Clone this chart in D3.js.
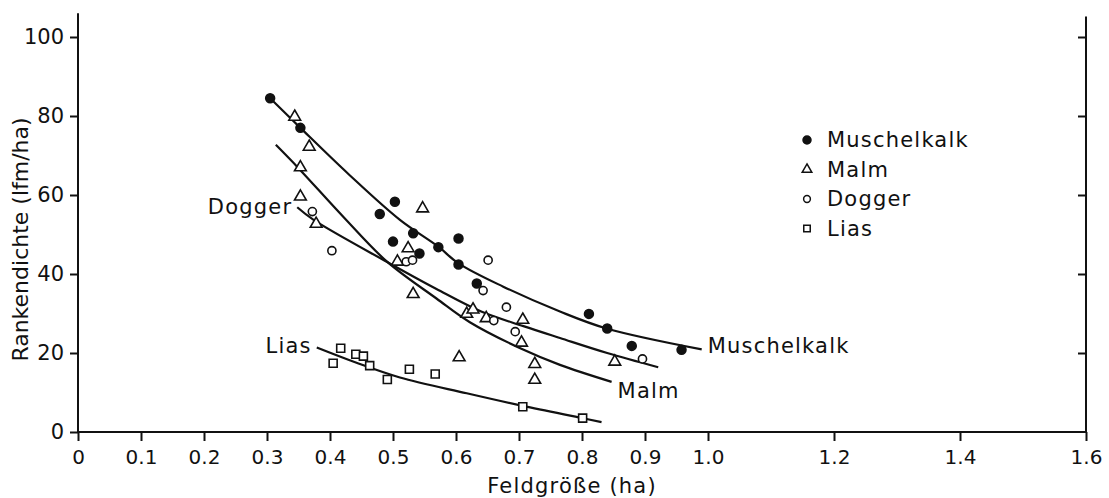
<!DOCTYPE html>
<html>
<head>
<meta charset="utf-8">
<script src="https://cdn.jsdelivr.net/npm/d3@7"></script>
<style>
  body { margin: 0; background: #fff; }
  text { font-family: "DejaVu Sans", sans-serif; fill: #111; }
</style>
</head>
<body>
<svg width="1109" height="498"></svg>
<script>
// measured points, x = field size (ha), y = Rankendichte (lfm/ha)
var muschelkalk = [[0.305,84.5],[0.353,77],[0.479,55.2],[0.503,58.3],[0.500,48.2],[0.532,50.3],[0.542,45.2],
  [0.572,46.8],[0.604,49.0],[0.604,42.4],[0.633,37.6],[0.811,29.9],[0.840,26.2],[0.879,21.8],[0.958,20.8]];
var malm = [[0.344,79.8],[0.353,67],[0.353,59.6],[0.367,72.2],[0.378,52.7],[0.507,43.1],[0.524,46.5],[0.532,34.9],
  [0.547,56.6],[0.605,18.9],[0.617,29.9],[0.627,31.0],[0.648,28.8],[0.704,22.6],[0.706,28.4],[0.725,17.2],
  [0.725,13.2],[0.852,17.8]];
var dogger = [[0.372,55.8],[0.403,45.9],[0.521,43.1],[0.531,43.5],[0.643,35.8],[0.651,43.5],[0.660,28.2],
  [0.680,31.6],[0.694,25.4],[0.896,18.5]];
var lias = [[0.405,17.4],[0.417,21.2],[0.441,19.7],[0.453,19.2],[0.463,16.8],[0.491,13.3],[0.526,15.9],
  [0.567,14.7],[0.706,6.4],[0.801,3.5]];

// fitted curves
var muschelkalkCurve = [[0.305,84.5],[0.353,77],[0.43,65.2],[0.511,53.7],[0.572,46.9],[0.604,42.7],[0.675,36.8],
  [0.765,30.5],[0.839,26.2],[0.99,20.9]];
var malmCurve = [[0.314,72.7],[0.350,66.8],[0.421,54.5],[0.490,43.2],[0.569,33.8],[0.622,27.8],[0.702,21.2],
  [0.765,17.0],[0.847,12.7]];
var doggerCurve = [[0.348,56.9],[0.374,53.7],[0.490,43.1],[0.569,36.2],[0.640,30.5],[0.707,26.8],[0.765,23.8],
  [0.840,20.0],[0.921,16.4]];
var liasCurve = [[0.379,21.4],[0.441,17.6],[0.511,13.8],[0.617,9.8],[0.706,6.6],[0.801,3.5],[0.831,2.5]];

var xTicks = [0,0.1,0.2,0.3,0.4,0.5,0.6,0.7,0.8,0.9,1.0,1.2,1.4,1.6];
var xTickLabels = ["0","0.1","0.2","0.3","0.4","0.5","0.6","0.7","0.8","0.9","1.0","1.2","1.4","1.6"];
var yTicks = [0,20,40,60,80,100];
var legendNames = ["Muschelkalk","Malm","Dogger","Lias"];

var svg = d3.select("svg"),
    width = +svg.attr("width"),
    height = +svg.attr("height");

var x = d3.scaleLinear().domain([0,1.6]).range([78,1086]);
var y = d3.scaleLinear().domain([0,100]).range([432,37]);

// axes
var gl = svg.append("g").attr("transform","translate(" + x(0) + ",0)")
  .call(d3.axisLeft(y).tickValues(yTicks).tickSize(8).tickPadding(6));
var gb = svg.append("g").attr("transform","translate(0," + y(0) + ")")
  .call(d3.axisBottom(x).tickValues(xTicks).tickFormat(function(d,i){ return xTickLabels[i]; })
    .tickSize(9).tickPadding(9));
var gr = svg.append("g").attr("transform","translate(" + x(1.6) + ",0)")
  .call(d3.axisLeft(y).tickValues([20,40,60,80,100]).tickFormat("").tickSize(8));

[gl,gb,gr].forEach(function(g){
  g.select(".domain").remove();
  g.selectAll("line").attr("stroke","#111").attr("stroke-width",2);
  g.selectAll("text").attr("font-size",20).attr("font-family","DejaVu Sans").attr("fill","#111");
});
gl.selectAll("text").attr("font-size",21);

svg.append("line").attr("x1",x(0)).attr("x2",x(0)).attr("y1",y(0)+1).attr("y2",y(106))
  .attr("stroke","#111").attr("stroke-width",2);
svg.append("line").attr("x1",x(1.6)).attr("x2",x(1.6)).attr("y1",y(0)+1).attr("y2",y(105.2))
  .attr("stroke","#111").attr("stroke-width",2);
svg.append("line").attr("x1",x(0)-1).attr("x2",x(1.6)+1).attr("y1",y(0)).attr("y2",y(0))
  .attr("stroke","#111").attr("stroke-width",2);

// axis titles
svg.append("text")
  .attr("transform","translate(28," + ((y(0)+y(100))/2 + 5) + ") rotate(-90)")
  .attr("text-anchor","middle").attr("font-size",22)
  .text("Rankendichte (lfm/ha)");
svg.append("text")
  .attr("x",572).attr("y",493).attr("text-anchor","middle")
  .attr("font-size",21).attr("letter-spacing",1.2)
  .text("Feldgröße (ha)");

// curves
var line = d3.line().x(function(d){ return x(d[0]); }).y(function(d){ return y(d[1]); })
  .curve(d3.curveCatmullRom);
[muschelkalkCurve, malmCurve, doggerCurve, liasCurve].forEach(function(c){
  svg.append("path").attr("d", line(c)).attr("fill","none")
    .attr("stroke","#111").attr("stroke-width",2.2);
});

// markers
var shapes = [
  {data: muschelkalk, type: d3.symbolCircle, size: 62, fill: "#111"},
  {data: malm, type: d3.symbolTriangle, size: 60, fill: "#fff"},
  {data: dogger, type: d3.symbolCircle, size: 52, fill: "#fff"},
  {data: lias, type: d3.symbolSquare, size: 64, fill: "#fff"}
];
shapes.forEach(function(s){
  svg.append("g").selectAll("path")
    .data(s.data)
    .enter().append("path")
      .attr("transform", function(d){ return "translate(" + x(d[0]) + "," + y(d[1]) + ")"; })
      .attr("d", d3.symbol().type(s.type).size(s.size))
      .attr("fill", s.fill)
      .attr("stroke","#111").attr("stroke-width",1.6);
});

// curve labels
var lab = svg.append("g").attr("font-size",21).attr("letter-spacing",1.2);
lab.append("text").attr("x", x(doggerCurve[0][0]) - 5).attr("y", y(doggerCurve[0][1]) + 7)
  .attr("text-anchor","end").text("Dogger");
lab.append("text").attr("x", x(liasCurve[0][0]) - 5).attr("y", y(liasCurve[0][1]) + 6)
  .attr("text-anchor","end").text("Lias");
lab.append("text").attr("x", x(malmCurve[malmCurve.length-1][0]) + 6).attr("y", y(malmCurve[malmCurve.length-1][1]) + 16)
  .text("Malm");
lab.append("text").attr("x", x(muschelkalkCurve[muschelkalkCurve.length-1][0]) + 6)
  .attr("y", y(muschelkalkCurve[muschelkalkCurve.length-1][1]) + 4)
  .text("Muschelkalk");

// legend
var leg = svg.append("g").attr("transform","translate(807,140)");
var legSizes = [50, 40, 36, 42];
legendNames.forEach(function(name,i){
  var row = leg.append("g").attr("transform","translate(0," + (i*29.5) + ")");
  row.append("path").attr("d", d3.symbol().type(shapes[i].type).size(legSizes[i]))
    .attr("fill", shapes[i].fill).attr("stroke","#111").attr("stroke-width",1.5);
  row.append("text").attr("x",20).attr("y",7).attr("font-size",21).attr("letter-spacing",1.2).text(name);
});
</script>
</body>
</html>
